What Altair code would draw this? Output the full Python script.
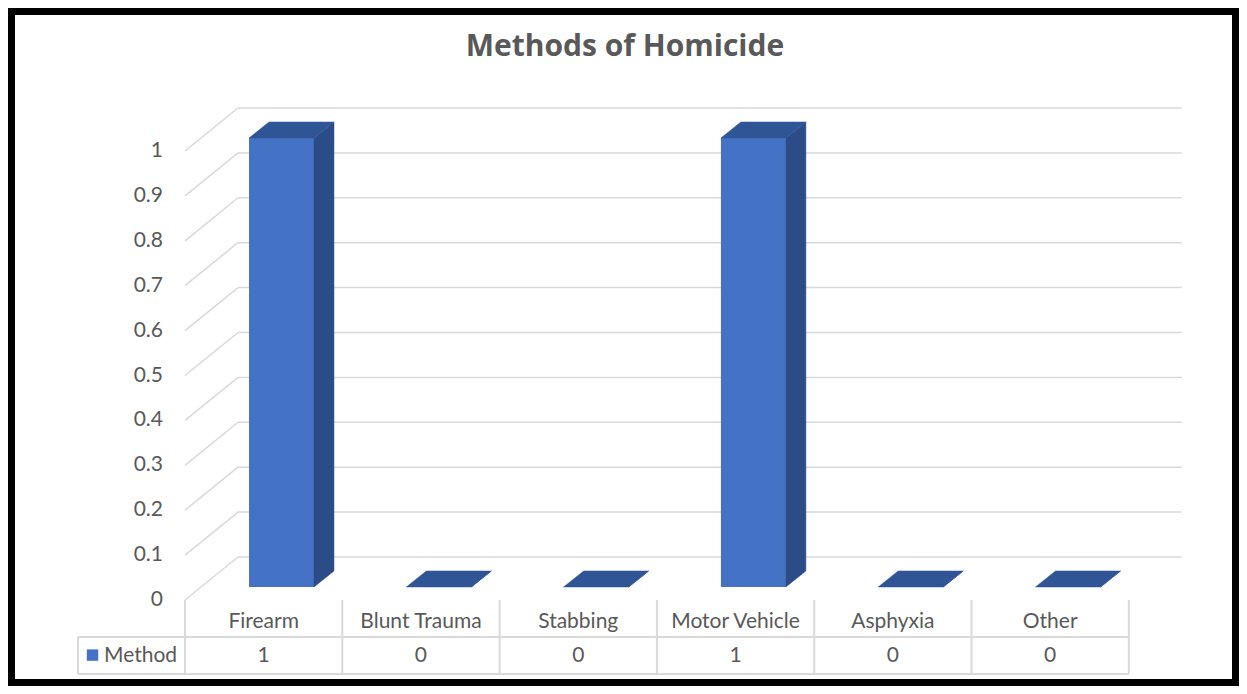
import altair as alt
import pandas as pd

# ---------------- data ----------------
CATEGORIES = ["Firearm", "Blunt Trauma", "Stabbing", "Motor Vehicle", "Asphyxia", "Other"]
VALUES = [1, 0, 0, 1, 0, 0]
SERIES_NAME = "Method"
Y_TICKS = [0, 0.1, 0.2, 0.3, 0.4, 0.5, 0.6, 0.7, 0.8, 0.9, 1]
Y_TICK_LABELS = ["0", "0.1", "0.2", "0.3", "0.4", "0.5", "0.6", "0.7", "0.8", "0.9", "1"]
TITLE = "Methods of Homicide"

# ---------------- geometry / style ----------------
W, H = 1231, 678
U_DOMAIN = [-1.1253, 6.7006]     # category units (front plane)
V_DOMAIN = [-0.19154, 1.31849]   # value units (front plane)
N = len(CATEGORIES)
WALL_DX, WALL_DY = 0.337, 0.0958   # depth of the 3-D box
BAR_L, BAR_R = 0.407, 0.82         # bar front face within a category
BAR_BASE = 0.029                   # bar front face sits a bit behind front plane
BAR_DX, BAR_DY = 0.127, 0.0356     # bar depth
TABLE_LEFT = -0.68
ROW1_LINE, ROW2_LINE = -0.0824, -0.1648
CAT_LABEL_V, VAL_LABEL_V = -0.049, -0.1247
TICK_LABEL_U = -0.14
LEGEND_SQ_U, LEGEND_TXT_U = -0.588, -0.515
TITLE_U, TITLE_V = 2.797, 1.2316

FRONT = "#4472C4"
SIDE = "#2B4C87"
TOP = "#2F5597"
GRID = "#D9D9D9"
TEXT = "#595959"
FONT = "Lato"
TITLE_FONT = "Open Sans"

xs = alt.Scale(domain=U_DOMAIN, nice=False, zero=False)
ys = alt.Scale(domain=V_DOMAIN, nice=False, zero=False)


def X(f="x"):
    return alt.X(f"{f}:Q", scale=xs, axis=None)


def Y(f="y"):
    return alt.Y(f"{f}:Q", scale=ys, axis=None)


# back-wall gridlines
back = pd.DataFrame({"y": [t + WALL_DY for t in Y_TICKS], "x": WALL_DX, "x2": N + WALL_DX})
back_grid = alt.Chart(back).mark_rule(color=GRID, strokeWidth=1.5).encode(
    x=X(), x2="x2:Q", y=Y())

# side-wall diagonals
diag = pd.DataFrame({"x": 0.0, "x2": WALL_DX, "y": Y_TICKS,
                     "y2": [t + WALL_DY for t in Y_TICKS]})
side_grid = alt.Chart(diag).mark_rule(color=GRID, strokeWidth=1.5).encode(
    x=X(), x2="x2:Q", y=Y(), y2="y2:Q")

# bars: front face
front_df = pd.DataFrame({
    "cat": CATEGORIES,
    "x": [i + BAR_L for i in range(N)],
    "x2": [i + BAR_R for i in range(N)],
    "y": [v + BAR_BASE for v in VALUES],
    "y2": BAR_BASE,
})
front_df = front_df[front_df["y"] > front_df["y2"]]
front_face = alt.Chart(front_df).mark_bar(color=FRONT).encode(
    x=X(), x2="x2:Q", y=Y(), y2="y2:Q")

# bars: side and top faces as closed polygons (4 corners each)
side_rows, top_rows = [], []
for i, (c, v) in enumerate(zip(CATEGORIES, VALUES)):
    xa, xb = i + BAR_R, i + BAR_R + BAR_DX
    side_rows += [
        {"cat": c, "o": 0, "x": xa, "y": BAR_BASE},
        {"cat": c, "o": 1, "x": xa, "y": v + BAR_BASE},
        {"cat": c, "o": 2, "x": xb, "y": v + BAR_BASE + BAR_DY},
        {"cat": c, "o": 3, "x": xb, "y": BAR_BASE + BAR_DY},
        {"cat": c, "o": 4, "x": xa, "y": BAR_BASE},
    ]
    yt = v + BAR_BASE
    top_rows += [
        {"cat": c, "o": 0, "x": i + BAR_L, "y": yt},
        {"cat": c, "o": 1, "x": i + BAR_L + BAR_DX, "y": yt + BAR_DY},
        {"cat": c, "o": 2, "x": i + BAR_R + BAR_DX, "y": yt + BAR_DY},
        {"cat": c, "o": 3, "x": i + BAR_R, "y": yt},
        {"cat": c, "o": 4, "x": i + BAR_L, "y": yt},
    ]
side_face = alt.Chart(pd.DataFrame(side_rows)).mark_line(
    filled=True, fill=SIDE, stroke=SIDE, strokeWidth=0.5, interpolate="linear-closed").encode(
    x=X(), y=Y(), detail="cat:N", order="o:Q")
top_face = alt.Chart(pd.DataFrame(top_rows)).mark_line(
    filled=True, fill=TOP, stroke=TOP, strokeWidth=0.5, interpolate="linear-closed").encode(
    x=X(), y=Y(), detail="cat:N", order="o:Q")

# y tick labels
ticks_df = pd.DataFrame({"y": Y_TICKS, "label": Y_TICK_LABELS, "x": TICK_LABEL_U})
tick_text = alt.Chart(ticks_df).mark_text(align="right", baseline="middle", fontSize=21,
                                          font=FONT, color=TEXT).encode(
    x=X(), y=Y(), text="label:N")

# data table
vlines = pd.DataFrame({"x": list(range(N + 1)), "y": 0.0, "y2": ROW2_LINE})
vlines = pd.concat([vlines, pd.DataFrame({"x": [TABLE_LEFT], "y": [ROW1_LINE], "y2": [ROW2_LINE]})])
table_v = alt.Chart(vlines).mark_rule(color=GRID, strokeWidth=2).encode(
    x=X(), y=Y(), y2="y2:Q")
hlines = pd.DataFrame({"y": [ROW1_LINE, ROW2_LINE], "x": TABLE_LEFT, "x2": float(N)})
table_h = alt.Chart(hlines).mark_rule(color=GRID, strokeWidth=2).encode(
    x=X(), x2="x2:Q", y=Y())

cat_df = pd.DataFrame({"label": CATEGORIES, "x": [i + 0.5 for i in range(N)], "y": CAT_LABEL_V})
cat_text = alt.Chart(cat_df).mark_text(align="center", baseline="middle", fontSize=21,
                                       font=FONT, color=TEXT).encode(
    x=X(), y=Y(), text="label:N")
val_df = pd.DataFrame({"label": [str(v) for v in VALUES], "x": [i + 0.5 for i in range(N)],
                       "y": VAL_LABEL_V})
val_text = alt.Chart(val_df).mark_text(align="center", baseline="middle", fontSize=21,
                                       font=FONT, color=TEXT).encode(
    x=X(), y=Y(), text="label:N")

leg_sq = alt.Chart(pd.DataFrame({"x": [LEGEND_SQ_U], "y": [VAL_LABEL_V + 0.002]})).mark_point(
    shape="square", filled=True, size=130, color=FRONT, opacity=1).encode(x=X(), y=Y())
leg_txt = alt.Chart(pd.DataFrame({"x": [LEGEND_TXT_U], "y": [VAL_LABEL_V], "label": [SERIES_NAME]})
                    ).mark_text(align="left", baseline="middle", fontSize=21, font=FONT,
                                color=TEXT).encode(x=X(), y=Y(), text="label:N")

title = alt.Chart(pd.DataFrame({"x": [TITLE_U], "y": [TITLE_V], "label": [TITLE]})).mark_text(
    align="center", baseline="middle", fontSize=30, fontWeight="bold", font=TITLE_FONT,
    color=TEXT).encode(x=X(), y=Y(), text="label:N")

chart = alt.layer(
    back_grid, side_grid, table_v, table_h,
    front_face, side_face, top_face,
    tick_text, cat_text, val_text, leg_sq, leg_txt, title,
).properties(
    width=W, height=H, autosize=alt.AutoSizeParams(type="none"), padding=0,
    background="white",
).configure_view(stroke="black", strokeWidth=14)

chart.save("out.html", embed_options={"renderer": "svg", "actions": False})
